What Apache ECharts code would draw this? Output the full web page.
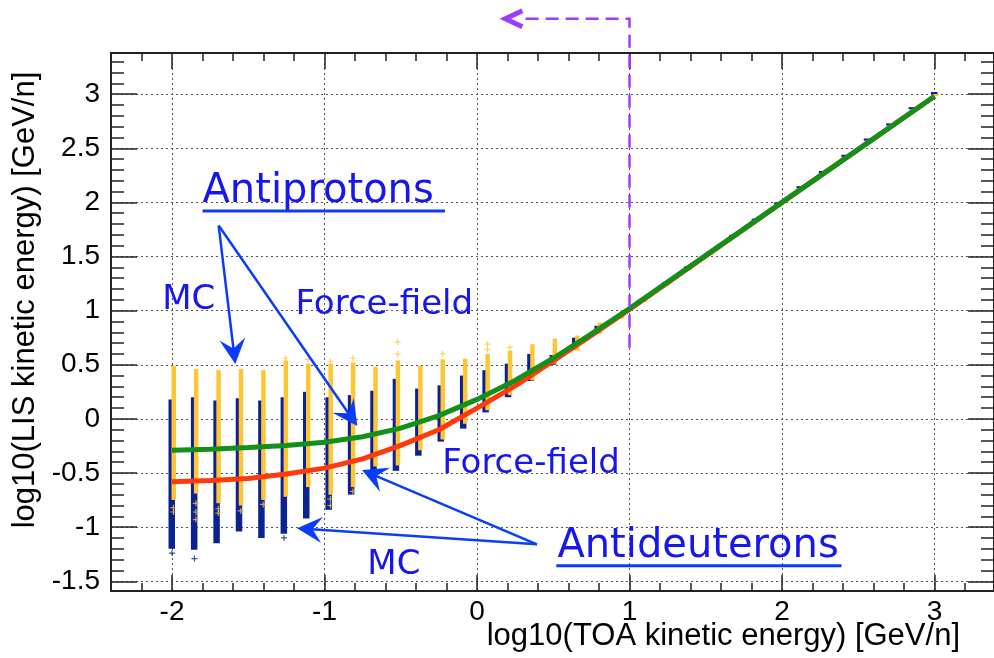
<!DOCTYPE html>
<html><head><meta charset="utf-8">
<script src="https://cdn.jsdelivr.net/npm/echarts@6/dist/echarts.min.js"></script>
<style>html,body{margin:0;padding:0;background:#fff}#c{width:994px;height:658px}</style>
</head><body><div id="c"></div>
<script>
// ---------- axis extents and tick values ----------
const X_MIN = -2.4, X_MAX = 3.39, Y_MIN = -1.59, Y_MAX = 3.38;
const xMajor = [-2, -1, 0, 1, 2, 3];
const xMinor = [-2.2, -1.8, -1.6, -1.4, -1.2, -0.8, -0.6, -0.4, -0.2, 0.2, 0.4, 0.6, 0.8, 1.2, 1.4, 1.6, 1.8, 2.2, 2.4, 2.6, 2.8, 3.2];
const yMajor = [-1.5, -1, -0.5, 0, 0.5, 1, 1.5, 2, 2.5, 3];
const yMinor = [-1.4, -1.3, -1.2, -1.1, -0.9, -0.8, -0.7, -0.6, -0.4, -0.3, -0.2, -0.1, 0.1, 0.2, 0.3, 0.4, 0.6, 0.7, 0.8, 0.9,
  1.1, 1.2, 1.3, 1.4, 1.6, 1.7, 1.8, 1.9, 2.1, 2.2, 2.3, 2.4, 2.6, 2.7, 2.8, 2.9, 3.1, 3.2, 3.3];

// ---------- MC bins (log10 TOA kinetic energy) ----------
const binX = [-2, -1.853, -1.706, -1.559, -1.412, -1.265, -1.118, -0.971, -0.824, -0.677, -0.53, -0.383, -0.236, -0.089,
  0.058, 0.205, 0.352, 0.499, 0.646, 0.793, 0.94, 1.088, 1.235, 1.382, 1.529, 1.676, 1.824, 1.971, 2.118, 2.265,
  2.412, 2.559, 2.706, 2.853, 3.0];
// antiprotons MC (yellow): top / bottom of log10(LIS) spread
const pbarHi = [0.49, 0.46, 0.45, 0.46, 0.45, 0.54, 0.51, 0.51, 0.52, 0.48, 0.54, 0.49, 0.55, 0.555, 0.60, 0.63, 0.69, 0.74, 0.77, 0.89, 1.0,
  1.11, 1.25, 1.40, 1.54, 1.69, 1.84, 1.99, 2.13, 2.28, 2.42, 2.57, 2.72, 2.86, 3.0];
const pbarLo = [-0.75, -0.69, -0.78, -0.80, -0.75, -0.72, -0.63, -0.70, -0.63, -0.44, -0.43, -0.29, -0.19, -0.045, 0.08, 0.22, 0.355, 0.51, 0.63, 0.79, 0.93,
  1.08, 1.23, 1.37, 1.52, 1.67, 1.82, 1.96, 2.11, 2.26, 2.40, 2.55, 2.70, 2.84, 2.99];
// antideuterons MC (dark blue)
const dbarHi = [0.18, 0.20, 0.17, 0.19, 0.17, 0.20, 0.25, 0.20, 0.22, 0.26, 0.37, 0.28, 0.31, 0.40, 0.45, 0.51, 0.60, 0.59, 0.75, 0.86, 0.97,
  1.11, 1.26, 1.41, 1.55, 1.70, 1.85, 2.00, 2.15, 2.29, 2.44, 2.59, 2.73, 2.88, 3.02];
const dbarLo = [-1.20, -1.21, -1.15, -1.04, -1.10, -1.06, -0.92, -0.84, -0.70, -0.48, -0.48, -0.34, -0.21, -0.09, 0.06, 0.20, 0.35, 0.50, 0.64, 0.79, 0.93,
  1.09, 1.24, 1.39, 1.53, 1.68, 1.83, 1.98, 2.13, 2.27, 2.42, 2.57, 2.71, 2.86, 3.0];
// sparse MC points outside the dense parts
const pbarOutX = [-2, -2, -1.853, -1.853, -1.853, -1.706, -1.706, -1.559, -1.412, -0.971, -0.971, -0.824, -0.53, -0.53, -0.236, 0.058, 0.058, 0.205, -1.265, -1.118, -0.971, -0.824];
const pbarOutY = [-0.82, -0.86, -0.78, -0.86, -0.93, -0.83, -0.87, -0.85, -0.79, -0.74, -0.80, -0.67, 0.71, 0.60, 0.60, 0.69, 0.64, 0.66, 0.56, 0.55, 0.53, 0.56];
const dbarOutX = [-1.853, -2, -1.265];
const dbarOutY = [-1.29, -1.24, -1.10];

// ---------- force-field curves ----------
const ffX = [-2, -1.75, -1.5, -1.25, -1, -0.75, -0.5, -0.25, 0, 0.25, 0.5, 0.75, 1, 1.5, 2, 2.5, 3];
const ffPbar = [-0.29, -0.28, -0.265, -0.245, -0.215, -0.165, -0.085, 0.03, 0.18, 0.355, 0.56, 0.785, 1.02, 1.51, 2.0, 2.49, 2.98];
const ffDbar = [-0.58, -0.57, -0.55, -0.51, -0.455, -0.37, -0.245, -0.10, 0.10, 0.305, 0.535, 0.77, 1.01, 1.505, 2.0, 2.49, 2.98];

const COL_P = '#ffc533', COL_D = '#0b2392', COL_G = '#12901a', COL_R = '#ff3a0a';
const AXC = '#222';
const FONT = 'Liberation Sans, Arial, Helvetica, sans-serif';

function xAx(pos, vals, len, main) {
  return {
    type: 'value', position: pos, min: X_MIN, max: X_MAX, gridIndex: 0,
    axisLine: { show: main, onZero: false, lineStyle: { color: AXC, width: 2 } },
    axisTick: { show: true, inside: true, length: len, customValues: vals, lineStyle: { color: AXC, width: 1.5 } },
    axisLabel: { show: main && pos === 'bottom', customValues: vals, margin: 7, fontSize: 28, color: '#000', fontFamily: FONT },
    splitLine: { show: main && pos === 'bottom', lineStyle: { type: [2, 3], color: '#555', width: 1 } },
    minorTick: { show: false }, minorSplitLine: { show: false }
  };
}
function yAx(pos, vals, len, main) {
  return {
    type: 'value', position: pos, min: Y_MIN, max: Y_MAX, gridIndex: 0,
    axisLine: { show: main, onZero: false, lineStyle: { color: AXC, width: 2 } },
    axisTick: { show: true, inside: true, length: len, customValues: vals, lineStyle: { color: AXC, width: 1.5 } },
    axisLabel: { show: main && pos === 'left', customValues: vals, margin: 11, fontSize: 28, color: '#000', fontFamily: FONT },
    splitLine: { show: main && pos === 'left', lineStyle: { type: [2, 3], color: '#555', width: 1 } },
    minorTick: { show: false }, minorSplitLine: { show: false }
  };
}

function barSeries(name, hi, lo, color, offL, w) {
  return {
    name, type: 'custom', xAxisIndex: 0, yAxisIndex: 0, silent: true, clip: false,
    data: binX.map((x, i) => [x, hi[i], lo[i]]),
    renderItem(params, api) {
      const p1 = api.coord([api.value(0), api.value(1)]);
      const p2 = api.coord([api.value(0), api.value(2)]);
      return { type: 'rect', shape: { x: p1[0] + offL, y: p1[1], width: w, height: Math.max(p2[1] - p1[1], 2) }, style: { fill: color } };
    }
  };
}
const PLUS = 'path://M4,0H6V4H10V6H6V10H4V6H0V4H4Z';

const chart = echarts.init(document.getElementById('c'), null, { renderer: 'canvas' });
const option = {
  animation: false,
  backgroundColor: '#fff',
  grid: { left: 111, top: 53, right: 0, bottom: 67, containLabel: false, outerBoundsMode: 'none' },
  xAxis: [xAx('bottom', xMajor, 16, true), xAx('bottom', xMinor, 8, false), xAx('top', xMajor, 16, true), xAx('top', xMinor, 8, false)],
  yAxis: [yAx('left', yMajor, 26, true), yAx('left', yMinor, 13, false), yAx('right', yMajor, 26, true), yAx('right', yMinor, 13, false)],
  series: [
    barSeries('dbarMC', dbarHi, dbarLo, COL_D, -3.5, 6.5),
    barSeries('pbarMC', pbarHi, pbarLo, COL_P, -0.5, 4.5),
    { type: 'scatter', silent: true, symbol: PLUS, symbolSize: 6, symbolOffset: [1.5, 0], itemStyle: { color: COL_P },
      data: pbarOutX.map((x, i) => [x, pbarOutY[i]]) },
    { type: 'scatter', silent: true, symbol: PLUS, symbolSize: 6, itemStyle: { color: COL_D },
      data: dbarOutX.map((x, i) => [x, dbarOutY[i]]) },
    { type: 'line', silent: true, showSymbol: false, lineStyle: { color: COL_R, width: 5 }, data: ffX.map((x, i) => [x, ffDbar[i]]) },
    { type: 'line', silent: true, showSymbol: false, lineStyle: { color: COL_G, width: 5 }, data: ffX.map((x, i) => [x, ffPbar[i]]) }
  ]
};
chart.setOption(option);

// ---------- annotations (anchored in data coordinates) ----------
const TXT = '#1616ee', ARW = '#0a3cff', PUR = '#9b3cff';
const AFONT = '"DejaVu Sans", "Noto Sans", sans-serif';
function P(x, y) { return chart.convertToPixel({ xAxisIndex: 0, yAxisIndex: 0 }, [x, y]); }
function arrow(s, e, L, W) {
  const a = P(s[0], s[1]), b = P(e[0], e[1]);
  const dx = b[0] - a[0], dy = b[1] - a[1], len = Math.hypot(dx, dy);
  const ux = dx / len, uy = dy / len, nx = -uy, ny = ux;
  return [
    { type: 'line', silent: true, z: 100, shape: { x1: a[0], y1: a[1], x2: b[0] - ux * L * 0.6, y2: b[1] - uy * L * 0.6 }, style: { stroke: ARW, lineWidth: 2.5 } },
    { type: 'polygon', silent: true, z: 100, shape: { points: [[b[0], b[1]], [b[0] - ux * L + nx * W / 2, b[1] - uy * L + ny * W / 2],
      [b[0] - ux * L * 0.62, b[1] - uy * L * 0.62], [b[0] - ux * L - nx * W / 2, b[1] - uy * L - ny * W / 2]] }, style: { fill: ARW } }
  ];
}
function label(text, x, y, size) {
  const p = P(x, y);
  return { type: 'text', silent: true, z: 100, x: p[0], y: p[1], style: { text, fill: TXT, fontSize: size, fontFamily: AFONT, align: 'left', verticalAlign: 'middle' } };
}
function uline(x1, x2, y) {
  const a = P(x1, y), b = P(x2, y);
  return { type: 'rect', silent: true, z: 100, shape: { x: a[0], y: a[1] - 1.5, width: b[0] - a[0], height: 3 }, style: { fill: ARW } };
}
const g = [];
g.push(label('Antiprotons', -1.80, 2.10, 40), uline(-1.80, -0.21, 1.92));
g.push(label('MC', -2.064, 1.10, 34));
g.push(label('Force-field', -1.19, 1.054, 34));
g.push(label('Force-field', -0.228, -0.418, 34));
g.push(label('Antideuterons', 0.527, -1.182, 40), uline(0.52, 2.39, -1.357));
g.push(label('MC', -0.719, -1.348, 34));
g.push(...arrow([-1.694, 1.786], [-1.585, 0.508], 25, 26));
g.push(...arrow([-1.694, 1.786], [-0.785, -0.066], 25, 26));
g.push(...arrow([0.393, -1.159], [-0.754, -0.472], 25, 26));
g.push(...arrow([0.393, -1.159], [-1.18, -1.011], 25, 26));
// purple dashed marker of x = 1
const pb = P(1, 0.656), pc = P(1, 3.696), pe = P(0.297, 3.696), pt = P(0.186, 3.696);
g.push({ type: 'polyline', silent: true, z: 100, shape: { points: [pb, pc, pe] }, style: { stroke: PUR, lineWidth: 2.5, lineDash: [13, 7], fill: null } });
g.push({ type: 'polyline', silent: true, z: 100, shape: { points: [[pt[0] + 17, pt[1] - 8], pt, [pt[0] + 17, pt[1] + 8]] }, style: { stroke: PUR, lineWidth: 5, fill: null } });
// axis titles
g.push({ type: 'text', silent: true, z: 100, x: 960, y: 636, style: { text: 'log10(TOA kinetic energy) [GeV/n]', fill: '#000', fontSize: 31, fontFamily: FONT, align: 'right', verticalAlign: 'middle' } });
g.push({ type: 'text', silent: true, z: 100, x: 25, y: 300, rotation: Math.PI / 2, style: { text: 'log10(LIS kinetic energy) [GeV/n]', fill: '#000', fontSize: 31, fontFamily: FONT, align: 'center', verticalAlign: 'middle' } });
chart.setOption({ graphic: g });
</script>
</body></html>
